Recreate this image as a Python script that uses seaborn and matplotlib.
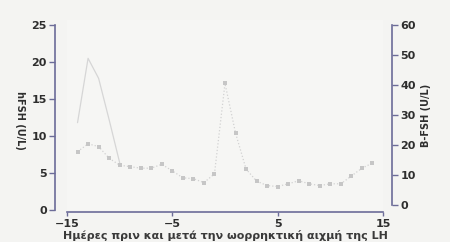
import numpy as np
import pandas as pd
import matplotlib
matplotlib.use("Agg")
import matplotlib.pyplot as plt
import seaborn as sns

# ---- data ----
days_b = [-14, -13, -12, -11, -10, -9, -8, -7, -6, -5, -4, -3, -2, -1, 0, 1, 2, 3, 4,
          5, 6, 7, 8, 9, 10, 11, 12, 13, 14]
bfsh = [17.8, 20.4, 19.5, 15.6, 13.3, 12.8, 12.3, 12.3, 13.6, 11.4, 9.1, 8.8, 7.5, 10.4,
        40.5, 24.0, 12.0, 8.0, 6.5, 6.2, 7.1, 8.1, 7.1, 6.5, 7.1, 7.1, 9.7, 12.3, 14.0]

days_h = [-14, -13, -12, -11, -10]
hfsh = [11.8, 20.5, 17.8, 12.2, 6.4]

xticks = [-15, -5, 5, 15]
left_ticks = [0, 5, 10, 15, 20, 25]
right_ticks = [0, 10, 20, 30, 40, 50, 60]

df_b = pd.DataFrame({"day": days_b, "val": bfsh})
df_h = pd.DataFrame({"day": days_h, "val": hfsh})

sns.set_style("white")
plt.rcParams['font.family'] = ['DejaVu Sans']

spine_col = '#6c6c98'
txt_col = '#2e2e2e'
px = 0.72  # points per pixel at dpi 100

fig = plt.figure(figsize=(4.5, 2.42), dpi=100, facecolor='#f4f4f2')
ax = fig.add_axes([67/450, 32/242, 316/450, 190/242])
ax.set_facecolor('#f6f6f4')
ax2 = ax.twinx()

# hFSH line (left axis)
sns.lineplot(data=df_h, x="day", y="val", ax=ax, color='#d6d6d6', linewidth=0.9)

# B-FSH dotted series with markers (right axis)
sns.lineplot(data=df_b, x="day", y="val", ax=ax2, color='#d2d2d2', linewidth=0.9,
             linestyle=':', marker='s', markersize=3.2, markeredgewidth=0,
             markerfacecolor='#c6c6c6')

ax.set_xlim(-15, 15)
ax.set_ylim(0, 25.68)
ax2.set_ylim(-1.62, 61.62)

ax.set_xticks(xticks)
ax.set_yticks(left_ticks)
ax2.set_yticks(right_ticks)

for a in (ax, ax2):
    for s in a.spines.values():
        s.set_visible(False)

ax.spines['left'].set_visible(True)
ax.spines['left'].set_position(('outward', 12 * px))
ax.spines['left'].set_bounds(0, 25)
ax.spines['bottom'].set_visible(True)
ax.spines['bottom'].set_position(('outward', 2 * px))
ax.spines['bottom'].set_bounds(-15, 15)
ax2.spines['right'].set_visible(True)
ax2.spines['right'].set_position(('outward', 9 * px))
ax2.spines['right'].set_bounds(0, 60)

for s in (ax.spines['left'], ax.spines['bottom'], ax2.spines['right']):
    s.set_color(spine_col)
    s.set_linewidth(1.2)

ax.tick_params(axis='y', direction='out', length=4, width=1, color=spine_col,
               labelsize=8, labelcolor=txt_col, pad=2, left=True)
ax.tick_params(axis='x', direction='out', length=3, width=1, color=spine_col,
               labelsize=8, labelcolor=txt_col, pad=2, bottom=True)
ax2.tick_params(axis='y', direction='out', length=4, width=1, color=spine_col,
                labelsize=8, labelcolor=txt_col, pad=2, right=True)

for lab in ax.get_xticklabels() + ax.get_yticklabels() + ax2.get_yticklabels():
    lab.set_fontweight('bold')

ax.set_xlabel('Ημέρες πριν και μετά την ωορρηκτική αιχμή της LH',
              fontsize=8, fontweight='bold', color='#3a3a3a', labelpad=1)
ax.set_ylabel('hFSH (U/L)', fontsize=7, fontweight='bold', color=txt_col,
              rotation=270, va='center', ha='center')
ax.yaxis.set_label_coords(-0.148, 0.47)
ax2.set_ylabel('B-FSH (U/L)', fontsize=7, fontweight='bold', color=txt_col,
               rotation=90, labelpad=4)

ax.grid(False)
ax2.grid(False)

fig.savefig('out.png', dpi=100, facecolor=fig.get_facecolor())
